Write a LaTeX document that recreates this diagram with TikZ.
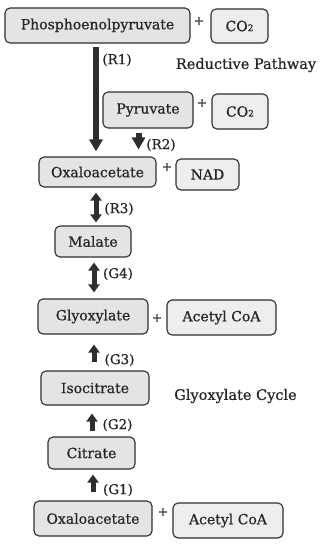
\documentclass[tikz,border=0pt]{standalone}
\usepackage{fontspec}
\setmainfont{DejaVu Serif}[FakeBold=0.7]
\usetikzlibrary{arrows.meta}
\definecolor{boxfill}{HTML}{E4E4E4}
\definecolor{sidefill}{HTML}{EEEEEE}
\definecolor{inkgray}{HTML}{2E2E2E}
\definecolor{txt}{HTML}{262626}
\tikzset{
  mol/.style={draw=inkgray, line width=1.1pt, rounded corners=5pt, fill=boxfill,
    inner sep=0pt, font=\fontsize{14}{16}\selectfont, text=txt},
  cof/.style={mol, fill=sidefill},
  lbl/.style={inner sep=0pt, font=\fontsize{13.5}{16}\selectfont, text=txt},
  plus/.style={inner sep=0pt, font=\fontsize{12}{12}\selectfont, text=txt},
  bigarr/.style={draw=inkgray, line width=6pt,
    -{Triangle[width=13pt,length=12pt]}},
  uparr/.style={draw=inkgray, line width=5pt,
    -{Triangle[width=11pt,length=8pt]}},
  dblarr/.style={draw=inkgray, line width=5pt,
    {Triangle[width=11pt,length=8pt]}-{Triangle[width=11pt,length=8pt]}},
}
\begin{document}
\begin{tikzpicture}[x=1pt,y=-1pt]
\useasboundingbox (0,0) rectangle (324,550);
% nodes
\node[mol, minimum width=185pt, minimum height=35pt] (pep) at (97.5,25.5) {Phosphoenolpyruvate};
\node[cof, minimum width=57pt, minimum height=34pt] (co2a) at (239.5,26) {CO{\fontsize{9}{9}\selectfont 2}};
\node[plus] (p1) at (199,21) {+};
\node[mol, minimum width=90pt, minimum height=36pt] (pyr) at (148,110) {Pyruvate};
\node[cof, minimum width=56pt, minimum height=35pt] (co2b) at (240,111.5) {CO{\fontsize{9}{9}\selectfont 2}};
\node[plus] (p2) at (202,103) {+};
\node[mol, minimum width=117pt, minimum height=30pt] (oaa1) at (97.5,172) {Oxaloacetate};
\node[cof, minimum width=63pt, minimum height=31pt] (nad) at (207.5,174.5) {NAD};
\node[plus] (p3) at (167,167) {+};
\node[mol, minimum width=76pt, minimum height=31pt] (mal) at (93,241.5) {Malate};
\node[mol, minimum width=110pt, minimum height=35pt] (gly) at (93,316.5) {Glyoxylate};
\node[cof, minimum width=109pt, minimum height=35pt] (acoa1) at (221.5,317.5) {Acetyl CoA};
\node[plus] (p4) at (157,318) {+};
\node[mol, minimum width=108pt, minimum height=34pt] (iso) at (95,388) {Isocitrate};
\node[mol, minimum width=87pt, minimum height=32pt] (cit) at (91.5,453) {Citrate};
\node[mol, minimum width=118pt, minimum height=35pt] (oaa2) at (93,518.5) {Oxaloacetate};
\node[cof, minimum width=110pt, minimum height=35pt] (acoa2) at (228,520.5) {Acetyl CoA};
\node[plus] (p5) at (163,512) {+};
% labels
\node[lbl] (lr1) at (117,60) {(R1)};
\node[lbl] (lr2) at (161,145) {(R2)};
\node[lbl] (lr3) at (119,209) {(R3)};
\node[lbl] (lg4) at (118,274) {(G4)};
\node[lbl] (lg3) at (119.5,360) {(G3)};
\node[lbl] (lg2) at (117.5,425) {(G2)};
\node[lbl] (lg1) at (118,490) {(G1)};
\node[lbl, font=\fontsize{14.5}{17}\selectfont] (red) at (246,65) {Reductive Pathway};
\node[lbl, font=\fontsize{14.5}{17}\selectfont] (cyc) at (235.5,396) {Glyoxylate Cycle};
% arrow x positions
\coordinate (xr1) at (96,0);
\coordinate (xr2) at (138.5,0);
\coordinate (xr3) at (96,0);
\coordinate (xg4) at (94,0);
\coordinate (xg3) at (94,0);
\coordinate (xg2) at (92,0);
\coordinate (xg1) at (93,0);
% arrows
\draw[bigarr, shorten <=3pt, shorten >=5pt] (pep.south -| xr1) -- (oaa1.north -| xr1);
\draw[bigarr, shorten <=4pt, shorten >=7pt] (pyr.south -| xr2) -- (oaa1.north -| xr2);
\draw[dblarr, shorten <=5pt, shorten >=3pt] (oaa1.south -| xr3) -- (mal.north -| xr3);
\draw[dblarr, shorten <=5pt, shorten >=6pt] (mal.south -| xg4) -- (gly.north -| xg4);
\draw[uparr, shorten <=8pt, shorten >=10pt] (iso.north -| xg3) -- (gly.south -| xg3);
\draw[uparr, shorten <=5pt, shorten >=8pt] (cit.north -| xg2) -- (iso.south -| xg2);
\draw[uparr, shorten <=8pt, shorten >=5pt] (oaa2.north -| xg1) -- (cit.south -| xg1);
\end{tikzpicture}
\end{document}
